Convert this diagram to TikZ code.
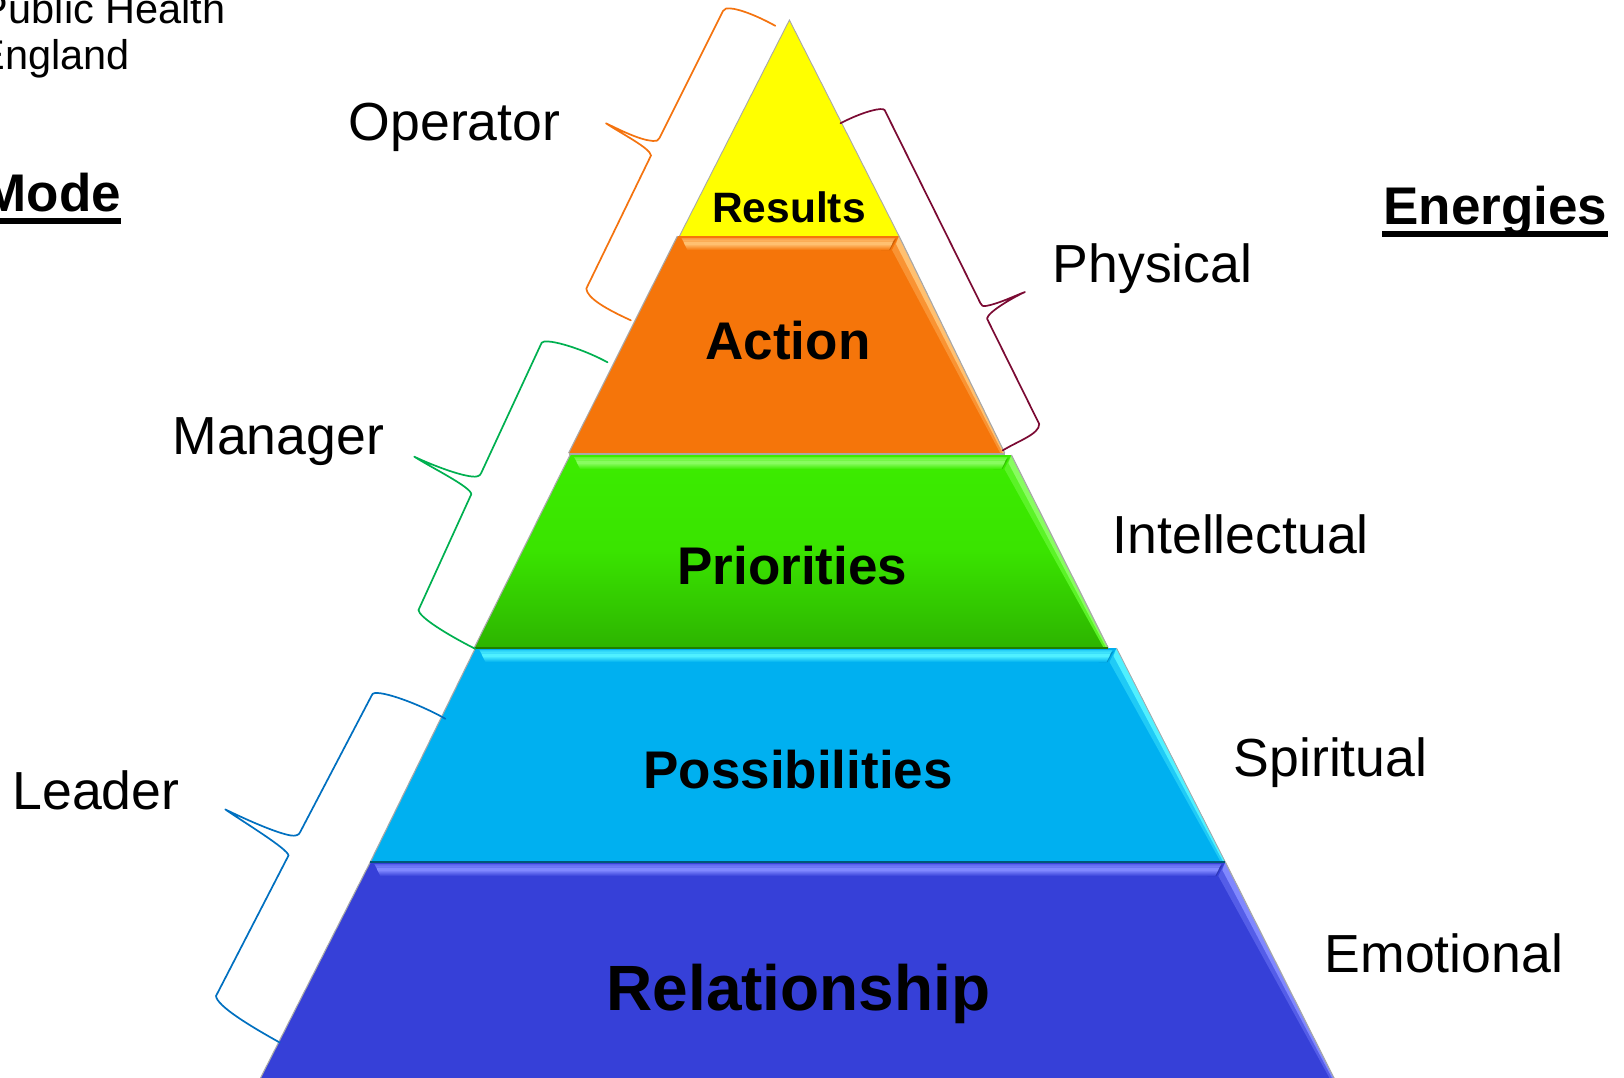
\documentclass[tikz,border=0pt]{standalone}
\usepackage{fontspec}
\setmainfont{Liberation Sans}
\definecolor{cOrange}{HTML}{F5750A}
\definecolor{cOrangeB}{HTML}{FFC070}
\definecolor{cYellow}{HTML}{FFFF00}
\definecolor{cGreenT}{HTML}{3CEC00}
\definecolor{cGreenM}{HTML}{2DB400}
\definecolor{cGreenB}{HTML}{88FC60}
\definecolor{cBlue}{HTML}{00B0F0}
\definecolor{cBlueB}{HTML}{50F0FF}
\definecolor{cIndigo}{HTML}{3640D8}
\definecolor{cIndigoB}{HTML}{8088FF}
\definecolor{cEdge}{HTML}{A8A8A8}
\definecolor{cBrO}{HTML}{F4730F}
\definecolor{cBrG}{HTML}{00B050}
\definecolor{cBrB}{HTML}{0070C0}
\definecolor{cBrM}{HTML}{7B0A33}
\tikzset{
  x=1pt,y=-1pt,
  lbl/.style={anchor=base west,inner sep=0pt,font=\fontsize{53.6}{54}\selectfont,text=black},
  headtxt/.style={anchor=base west,inner sep=0pt,font=\fontsize{53}{53}\selectfont\bfseries,text=black},
  lvl/.style={anchor=base,inner sep=0pt,font=\fontsize{#1}{#1}\selectfont\bfseries,text=black},
  org/.style={anchor=base west,inner sep=0pt,font=\fontsize{41.5}{42}\selectfont,text=black},
  bracket/.style={line width=1.7pt,line join=round,line cap=round,draw=#1},
  edgeline/.style={draw=cEdge,line width=1.1pt},
}
% #1 top-left, #2 top-right, #3 bottom-right, #4 main colour, #5 bevel colour
\newcommand{\bevel}[5]{%
  \fill[#4!82!black] ([shift={(-3,3)}]#2) -- ([shift={(-9,14)}]#2) -- ([shift={(-18,14)}]#2) -- cycle;
  \shade[top color=#5!50!#4,bottom color=#5] ([shift={(4,2)}]#1) -- ([shift={(-4,2)}]#2) -- ([shift={(-6,5.5)}]#2) -- ([shift={(6,5.5)}]#1) -- cycle;
  \fill[#5] ([shift={(6,5.5)}]#1) -- ([shift={(-6,5.5)}]#2) -- ([shift={(-7,8)}]#2) -- ([shift={(7,8)}]#1) -- cycle;
  \shade[top color=#5,bottom color=#4] ([shift={(7,8)}]#1) -- ([shift={(-7,8)}]#2) -- ([shift={(-10,14)}]#2) -- ([shift={(10,14)}]#1) -- cycle;
  \fill[#5!40!#4] ([shift={(-1,2)}]#2) -- (#3) -- ([shift={(-4.5,0)}]#3) -- ([shift={(-7,14)}]#2) -- cycle;
  \fill[#5] (#2) -- (#3) -- ([shift={(-2,0)}]#3) -- ([shift={(-3,8)}]#2) -- cycle;
}
\begin{document}
\begin{tikzpicture}
\useasboundingbox (0,0) rectangle (1624,1078);
\clip (0,0) rectangle (1624,1078);
\fill[white] (0,0) rectangle (1624,1078);

% Results
\fill[cYellow] (789.4,20) -- (899,236) -- (679.5,236) -- cycle;
\draw[edgeline,line width=.9pt] (679.5,236) -- (789.4,20) -- (899,236);

% Action
\coordinate (aTL) at (677.4,236); \coordinate (aTR) at (899,236); \coordinate (aBR) at (1004.7,453); \coordinate (aBL) at (568.7,453);
\fill[cOrange] (aTL) -- (aTR) -- (aBR) -- (aBL) -- cycle;
\bevel{aTL}{aTR}{aBR}{cOrange}{cOrangeB}
\draw[edgeline] (aTL) -- (aBL);
\draw[edgeline] (aTR) -- (aBR);
\draw[cEdge,line width=2pt] (568.7,453.5) -- (1004.7,453.5);

% Priorities
\coordinate (pTL) at (570,455); \coordinate (pTR) at (1011.4,455); \coordinate (pBR) at (1108,647.5); \coordinate (pBL) at (474.4,647.5);
\shade[top color=cGreenT,bottom color=cGreenM,middle color=cGreenT!85!cGreenM] (pTL) -- (pTR) -- (pBR) -- (pBL) -- cycle;
\bevel{pTL}{pTR}{pBR}{cGreenT}{cGreenB}
\draw[edgeline] (pTL) -- (pBL);
\draw[edgeline] (pTR) -- (pBR);

% Possibilities
\coordinate (sTL) at (475.4,648); \coordinate (sTR) at (1116.5,648); \coordinate (sBR) at (1225.3,862); \coordinate (sBL) at (370.3,862);
\fill[cBlue] (sTL) -- (sTR) -- (sBR) -- (sBL) -- cycle;
\bevel{sTL}{sTR}{sBR}{cBlue}{cBlueB}
\draw[edgeline] (sTL) -- (sBL);
\draw[edgeline,line width=.8pt] (sTR) -- (sBR);
\draw[cGreenM!70!black,line width=1.4pt] (sTL) -- (1108,648);

% Relationship
\coordinate (rTL) at (370.3,862); \coordinate (rTR) at (1225.3,862); \coordinate (rBR) at (1334,1078); \coordinate (rBL) at (260.5,1078);
\fill[cIndigo] (rTL) -- (rTR) -- (rBR) -- (rBL) -- cycle;
\bevel{rTL}{rTR}{rBR}{cIndigo}{cIndigoB}
\draw[edgeline] (rTL) -- (rBL);
\draw[edgeline] (rTR) -- (rBR);
\draw[cBlue!50!black,line width=1.4pt] (rTL) -- (rTR);

% Brackets
\draw[bracket=cBrO] (775.3,25.8) .. controls (752,13) and (733,7) .. (726,8.6) .. controls (724.5,9) and (723.6,9.8) .. (723,11)
  -- (659.5,138) .. controls (658.5,140.5) and (656,141.5) .. (653,141) .. controls (640,140) and (622,131) .. (606,123.3)
  .. controls (622,134) and (650,148) .. (651,155.5)
  -- (586.3,288.6) .. controls (587,298) and (606,309) .. (630.8,320.3);
\draw[bracket=cBrG] (607.5,362.3) .. controls (585,350) and (554,340) .. (544,341.6) .. controls (542,342) and (541,343) .. (540.6,345)
  -- (481.2,473) .. controls (480,476.5) and (476,477) .. (472,476.5) .. controls (458,475) and (432,465) .. (414.3,456.7)
  .. controls (432,468) and (471,487) .. (471.3,494.2)
  -- (418.5,610) .. controls (419,617) and (446,634) .. (475.4,648.9);
\draw[bracket=cBrB] (445.4,718.8) .. controls (425,707) and (388,692) .. (375,693) .. controls (373,693.2) and (372,694) .. (371.4,696)
  -- (300.2,832) .. controls (299,835.5) and (295,836) .. (291,835.5) .. controls (276,833) and (245,819) .. (225.3,809.4)
  .. controls (245,823) and (288,849) .. (288.5,855.5)
  -- (216,996) .. controls (217,1006) and (250,1026) .. (279.7,1042.5);
\draw[bracket=cBrM] (840.5,123.3) .. controls (858,114) and (877,108) .. (883,109.2) .. controls (884.5,109.5) and (885,110.2) .. (885.6,112)
  -- (980.3,303) .. controls (981,306) and (983,306.5) .. (987,305.8) .. controls (1000,303) and (1012,297) .. (1024.9,292)
  .. controls (1012,298) and (988,312) .. (987,318.6)
  -- (1039.2,424) .. controls (1039.5,434) and (1018,441) .. (1002.6,450.5);

% Text
\node[org] (orgA) at (-19.2,23.5) {Public Health};
\node[org] (orgB) at (-22.5,69.5) {England};
\node[headtxt] (mode) at (-17.5,211.5) {Mode};
\node[headtxt] (energies) at (1383.2,224.5) {Energies};
\fill[black] (-20,218) rectangle (120.5,224);
\fill[black] (1382,231) rectangle (1608,237);
\node[lbl] (operator) at (348.6,140.8) {Operator};
\node[lbl] (manager) at (172.3,454.4) {Manager};
\node[lbl] (leader) at (12.3,809.3) {Leader};
\node[lbl] (physical) at (1052.6,282.8) {Physical};
\node[lbl] (intellectual) at (1112.4,553.5) {Intellectual};
\node[lbl] (spiritual) at (1233.5,776) {Spiritual};
\node[lbl] (emotional) at (1324.5,972.5) {Emotional};
\node[lvl=42.5] (results) at (789,222.5) {Results};
\node[lvl=53] (action) at (788,359) {Action};
\node[lvl=53] (priorities) at (792.3,584.5) {Priorities};
\node[lvl=53] (possibilities) at (798,788) {Possibilities};
\node[lvl=64] (relationship) at (798.5,1010.4) {Relationship};
\end{tikzpicture}
\end{document}
